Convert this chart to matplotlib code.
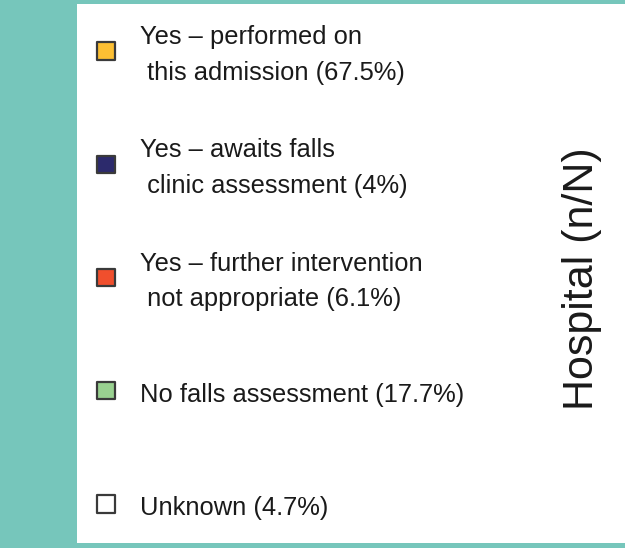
import matplotlib
matplotlib.use("Agg")
import matplotlib.pyplot as plt
from matplotlib.patches import Rectangle

plt.rcParams['font.family'] = ['Liberation Sans', 'DejaVu Sans']

categories = [
    "Yes \u2013 performed on\n this admission (67.5%)",
    "Yes \u2013 awaits falls\n clinic assessment (4%)",
    "Yes \u2013 further intervention\n not appropriate (6.1%)",
    "No falls assessment (17.7%)",
    "Unknown (4.7%)",
]
colors = ["#fcbf33", "#2c2a6c", "#f04f2d", "#99d190", "#ffffff"]
axis_title = "Hospital (n/N)"

W, H = 625, 548
fig = plt.figure(figsize=(W / 100, H / 100), dpi=100)
fig.patch.set_facecolor("#76c6bb")
fig.patches.append(Rectangle((77 / W, 5 / H), 1 - 77 / W, 539.5 / H,
                             transform=fig.transFigure, facecolor="white",
                             edgecolor="none", zorder=-5))

ax = fig.add_axes([0, 0, 1, 1])
ax.set_zorder(2)
ax.set_facecolor("none")
step = 113.25
top = -51 / step
ax.set_ylim(top + H / step, top)
ax.set_xlim(0, W)
ax.axis("off")

ys = list(range(len(categories)))
ax.scatter([106] * len(ys), ys, marker="s", s=150, c=colors,
           edgecolors="#3a3a3a", linewidths=1.6, zorder=3)
for y, lab in zip(ys, categories):
    ax.text(140, y + 0.035, lab, fontsize=18.4, va="center", ha="left",
            linespacing=1.62, color="#1a1a1a")

ax.text(582, 279 / step + top, axis_title, rotation=90, fontsize=31,
        va="center", ha="center", color="#1a1a1a")

fig.savefig("out.png", dpi=100, facecolor=fig.get_facecolor())
